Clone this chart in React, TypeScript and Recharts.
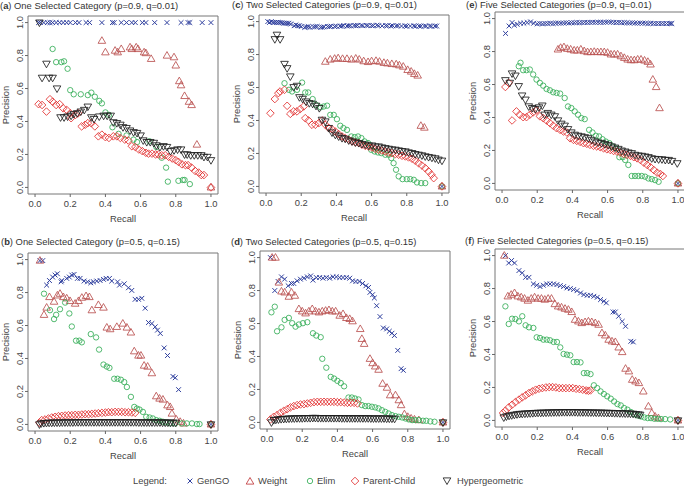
import { ScatterChart, Scatter, XAxis, YAxis, ReferenceArea } from 'recharts'

type Pt = [number, number]

const FONT = '"Liberation Sans", Arial, Helvetica, sans-serif'
const BLUE = '#2f3f9e'
const BROWN = '#b9504f'
const GREEN = '#35ad57'
const RED = '#e22d2d'
const BLACK = '#1e1e1e'
const TEXT = '#444'
const TICKS = [0, 0.2, 0.4, 0.6, 0.8, 1.0]

// ---- (a) one category, p=0.9 q=0.01
const aGenGO: Pt[] = [
  [0.02, 1], [0.03, 1], [0.05, 1], [0.07, 1], [0.085, 1], [0.1, 1], [0.12, 1], [0.14, 1], [0.16, 1],
  [0.18, 1], [0.2, 1], [0.23, 1], [0.25, 1], [0.29, 1], [0.31, 1], [0.38, 1], [0.44, 1], [0.45, 1],
  [0.49, 1], [0.52, 1], [0.55, 1], [0.57, 1], [0.61, 1], [0.63, 1], [0.68, 1], [0.75, 1], [0.83, 1],
  [0.87, 1], [0.88, 1], [0.95, 1], [1.0, 1],
]
const aWeight: Pt[] = [
  [0.38, 0.89], [0.4, 0.82], [0.455, 0.83], [0.47, 0.82], [0.49, 0.84], [0.54, 0.85], [0.55, 0.84],
  [0.575, 0.85], [0.585, 0.84], [0.62, 0.82], [0.63, 0.815], [0.66, 0.78], [0.75, 0.8], [0.79, 0.79],
  [0.8, 0.74], [0.82, 0.645], [0.83, 0.62], [0.85, 0.555], [0.875, 0.52], [0.89, 0.5], [0.92, 0.26], [1.0, 0.0],
]
const aElim: Pt[] = [
  [0.1, 0.84], [0.12, 0.76], [0.15, 0.76], [0.165, 0.765], [0.185, 0.72], [0.2, 0.59], [0.22, 0.565],
  [0.26, 0.565], [0.3, 0.56], [0.32, 0.575], [0.34, 0.55], [0.365, 0.525], [0.38, 0.51], [0.4, 0.455],
  [0.42, 0.44], [0.44, 0.365], [0.475, 0.325], [0.52, 0.315], [0.56, 0.29], [0.58, 0.275], [0.65, 0.28],
  [0.69, 0.245], [0.72, 0.18], [0.745, 0.12], [0.755, 0.035], [0.815, 0.04], [0.84, 0.045], [0.85, 0.045],
  [0.88, 0.02],
]
const aParent: Pt[] = [
  [0.02, 0.505], [0.04, 0.5], [0.065, 0.46], [0.085, 0.535], [0.1, 0.52], [0.12, 0.5], [0.14, 0.505],
  [0.16, 0.48], [0.18, 0.47], [0.2, 0.45], [0.205, 0.42], [0.23, 0.44], [0.245, 0.45], [0.265, 0.37],
  [0.285, 0.38], [0.3, 0.39], [0.32, 0.39], [0.34, 0.37], [0.36, 0.31], [0.38, 0.32], [0.4, 0.305],
  [0.42, 0.3], [0.445, 0.31], [0.465, 0.31], [0.485, 0.3], [0.51, 0.29], [0.53, 0.285], [0.55, 0.25],
  [0.57, 0.245], [0.59, 0.23], [0.61, 0.22], [0.63, 0.21], [0.645, 0.205], [0.665, 0.205], [0.685, 0.2],
  [0.7, 0.2], [0.72, 0.195], [0.74, 0.195], [0.76, 0.185], [0.78, 0.175], [0.8, 0.165], [0.815, 0.155],
  [0.835, 0.14], [0.855, 0.135], [0.87, 0.135], [0.89, 0.12], [0.91, 0.1], [0.93, 0.09], [0.945, 0.075],
  [0.96, 0.075], [1.0, 0.0],
]
const aHyper: Pt[] = [
  [0.025, 1.0], [0.065, 0.75], [0.04, 0.665], [0.08, 0.665], [0.1, 0.665], [0.125, 0.6], [0.145, 0.425],
  [0.165, 0.425], [0.185, 0.43], [0.205, 0.435], [0.22, 0.445], [0.24, 0.45], [0.26, 0.46], [0.28, 0.47],
  [0.3, 0.49], [0.32, 0.425], [0.335, 0.415], [0.365, 0.43], [0.39, 0.435], [0.41, 0.435], [0.43, 0.435],
  [0.445, 0.395], [0.465, 0.39], [0.485, 0.38], [0.5, 0.365], [0.52, 0.36], [0.54, 0.345], [0.56, 0.335],
  [0.58, 0.33], [0.6, 0.315], [0.615, 0.285], [0.635, 0.275], [0.655, 0.275], [0.675, 0.27], [0.69, 0.255],
  [0.71, 0.245], [0.73, 0.25], [0.75, 0.245], [0.77, 0.22], [0.79, 0.225], [0.81, 0.23], [0.83, 0.23],
  [0.85, 0.2], [0.865, 0.2], [0.885, 0.195], [0.905, 0.195], [0.925, 0.195], [0.945, 0.195], [0.96, 0.185],
  [0.98, 0.185], [1.0, 0.165],
]

// ---- (c) two categories, p=0.9 q=0.01
const cGenGO: Pt[] = [
  [0.01, 1.0], [0.02, 0.995], [0.03, 1.0], [0.04, 0.995], [0.05, 0.995], [0.06, 0.995], [0.07, 0.995],
  [0.08, 0.995], [0.09, 0.993], [0.1, 0.99], [0.11, 0.99], [0.12, 0.99], [0.13, 0.99], [0.14, 0.985],
  [0.16, 0.975], [0.17, 0.98], [0.18, 0.975], [0.19, 0.975], [0.2, 0.97], [0.22, 0.965], [0.23, 0.968],
  [0.24, 0.97], [0.25, 0.965], [0.27, 0.968], [0.28, 0.97], [0.29, 0.97], [0.31, 0.965], [0.32, 0.966],
  [0.33, 0.968], [0.35, 0.97], [0.36, 0.97], [0.37, 0.972], [0.39, 0.97], [0.4, 0.972], [0.42, 0.973],
  [0.43, 0.972], [0.44, 0.975], [0.46, 0.973], [0.47, 0.974], [0.48, 0.975], [0.5, 0.976], [0.51, 0.975],
  [0.52, 0.977], [0.54, 0.976], [0.55, 0.975], [0.57, 0.977], [0.58, 0.976], [0.6, 0.975], [0.61, 0.976],
  [0.63, 0.978], [0.64, 0.975], [0.66, 0.974], [0.68, 0.976], [0.69, 0.975], [0.71, 0.973], [0.72, 0.975],
  [0.74, 0.974], [0.75, 0.975], [0.77, 0.973], [0.79, 0.974], [0.8, 0.972], [0.82, 0.973], [0.84, 0.974],
  [0.85, 0.972], [0.87, 0.973], [0.88, 0.972], [0.9, 0.973], [0.91, 0.972], [0.93, 0.973], [0.94, 0.972],
  [0.96, 0.973], [0.97, 0.973], [1.0, 0.0],
]
const cWeight: Pt[] = [
  [0.337, 0.757], [0.365, 0.77], [0.39, 0.775], [0.41, 0.778], [0.435, 0.774], [0.46, 0.774], [0.485, 0.77],
  [0.51, 0.776], [0.53, 0.77], [0.555, 0.76], [0.58, 0.755], [0.6, 0.76], [0.625, 0.762], [0.645, 0.757],
  [0.67, 0.75], [0.69, 0.747], [0.715, 0.743], [0.74, 0.741], [0.758, 0.735], [0.78, 0.727], [0.805, 0.707],
  [0.825, 0.697], [0.843, 0.683], [0.862, 0.673], [0.88, 0.368], [0.9, 0.357], [1.0, 0.0],
]
const cElim: Pt[] = [
  [0.105, 0.626], [0.13, 0.586], [0.148, 0.576], [0.176, 0.586], [0.205, 0.63], [0.223, 0.57], [0.24, 0.57],
  [0.265, 0.53], [0.284, 0.495], [0.31, 0.48], [0.328, 0.485], [0.347, 0.49], [0.365, 0.434], [0.385, 0.434],
  [0.403, 0.408], [0.422, 0.368], [0.44, 0.354], [0.46, 0.343], [0.485, 0.303], [0.504, 0.299], [0.523, 0.303],
  [0.542, 0.293], [0.56, 0.273], [0.58, 0.263], [0.598, 0.222], [0.617, 0.212], [0.636, 0.206], [0.655, 0.202],
  [0.678, 0.192], [0.697, 0.192], [0.712, 0.172], [0.725, 0.141], [0.739, 0.101], [0.754, 0.061], [0.776, 0.044],
  [0.8, 0.044], [0.82, 0.044], [0.84, 0.04], [0.858, 0.024], [0.882, 0.02], [0.905, 0.02], [1.0, 0.0],
]
const cParent: Pt[] = [
  [0.025, 0.444], [0.05, 0.53], [0.07, 0.566], [0.08, 0.576], [0.105, 0.586], [0.12, 0.489], [0.138, 0.44],
  [0.157, 0.455], [0.176, 0.455], [0.195, 0.47], [0.214, 0.485], [0.223, 0.414], [0.242, 0.4], [0.261, 0.374],
  [0.28, 0.374], [0.3, 0.384], [0.318, 0.4], [0.337, 0.374], [0.356, 0.354], [0.375, 0.347], [0.394, 0.333],
  [0.413, 0.317], [0.432, 0.303], [0.45, 0.293], [0.47, 0.283], [0.489, 0.273], [0.508, 0.267], [0.527, 0.263],
  [0.545, 0.253], [0.564, 0.246], [0.583, 0.242], [0.602, 0.236], [0.621, 0.228], [0.64, 0.222], [0.659, 0.218],
  [0.678, 0.212], [0.697, 0.206], [0.716, 0.202], [0.735, 0.196], [0.754, 0.192], [0.773, 0.186], [0.792, 0.182],
  [0.81, 0.176], [0.83, 0.168], [0.848, 0.156], [0.867, 0.141], [0.886, 0.127], [0.905, 0.111], [0.924, 0.091],
  [0.94, 0.071], [0.953, 0.05], [1.0, 0.0],
]
const cHyper: Pt[] = [
  [0.05, 0.893], [0.062, 0.92], [0.08, 0.893], [0.105, 0.743], [0.12, 0.717], [0.138, 0.667], [0.157, 0.602],
  [0.176, 0.61], [0.19, 0.541], [0.208, 0.531], [0.227, 0.515], [0.246, 0.505], [0.265, 0.501], [0.284, 0.489],
  [0.303, 0.475], [0.318, 0.404], [0.337, 0.394], [0.356, 0.354], [0.375, 0.327], [0.394, 0.313], [0.413, 0.303],
  [0.432, 0.293], [0.45, 0.289], [0.47, 0.279], [0.489, 0.273], [0.508, 0.267], [0.527, 0.263], [0.545, 0.257],
  [0.564, 0.253], [0.583, 0.248], [0.602, 0.248], [0.621, 0.242], [0.64, 0.242], [0.659, 0.236], [0.678, 0.232],
  [0.697, 0.228], [0.716, 0.224], [0.735, 0.222], [0.754, 0.218], [0.773, 0.214], [0.792, 0.212], [0.81, 0.206],
  [0.83, 0.202], [0.848, 0.196], [0.867, 0.192], [0.886, 0.188], [0.905, 0.182], [0.924, 0.178], [0.943, 0.174],
  [0.962, 0.17], [0.98, 0.162], [1.0, 0.156],
]

// ---- (e) five categories, p=0.9 q=0.01
const eGenGO: Pt[] = [
  [0.02, 0.91], [0.04, 0.955], [0.057, 0.976], [0.07, 0.96], [0.086, 0.965], [0.105, 0.972], [0.124, 0.972],
  [0.143, 0.976], [0.162, 0.98], [0.18, 0.972], [0.2, 0.968], [0.215, 0.97], [0.23, 0.968], [0.245, 0.97],
  [0.26, 0.97], [0.275, 0.972], [0.29, 0.97], [0.305, 0.972], [0.32, 0.973], [0.335, 0.972], [0.35, 0.973],
  [0.365, 0.975], [0.38, 0.973], [0.395, 0.975], [0.41, 0.975], [0.425, 0.976], [0.44, 0.975], [0.455, 0.976],
  [0.47, 0.977], [0.485, 0.976], [0.5, 0.977], [0.515, 0.978], [0.53, 0.977], [0.545, 0.978], [0.56, 0.978],
  [0.575, 0.977], [0.59, 0.978], [0.605, 0.98], [0.62, 0.978], [0.635, 0.977], [0.65, 0.976], [0.665, 0.977],
  [0.68, 0.975], [0.695, 0.976], [0.71, 0.975], [0.725, 0.973], [0.74, 0.975], [0.755, 0.973], [0.77, 0.972],
  [0.785, 0.973], [0.8, 0.972], [0.815, 0.972], [0.83, 0.97], [0.845, 0.972], [0.86, 0.97], [0.875, 0.97],
  [0.89, 0.97], [0.905, 0.97], [0.92, 0.97], [0.935, 0.97], [0.95, 0.97], [0.96, 0.97], [0.965, 0.97], [1.0, 0.0],
]
const eWeight: Pt[] = [
  [0.318, 0.813], [0.333, 0.823], [0.352, 0.827], [0.371, 0.817], [0.39, 0.813], [0.41, 0.807], [0.428, 0.807],
  [0.448, 0.813], [0.467, 0.803], [0.486, 0.797], [0.505, 0.797], [0.524, 0.799], [0.543, 0.797], [0.562, 0.797],
  [0.581, 0.797], [0.6, 0.793], [0.619, 0.783], [0.638, 0.783], [0.657, 0.783], [0.676, 0.772], [0.695, 0.762],
  [0.714, 0.752], [0.733, 0.748], [0.752, 0.748], [0.771, 0.752], [0.79, 0.752], [0.81, 0.746], [0.829, 0.738],
  [0.844, 0.722], [0.857, 0.63], [0.876, 0.585], [0.895, 0.457], [1.0, 0.0],
]
const eElim: Pt[] = [
  [0.095, 0.711], [0.105, 0.732], [0.12, 0.687], [0.139, 0.687], [0.158, 0.691], [0.177, 0.661], [0.196, 0.63],
  [0.215, 0.61], [0.234, 0.593], [0.253, 0.573], [0.272, 0.565], [0.291, 0.553], [0.31, 0.549], [0.33, 0.545],
  [0.356, 0.518], [0.375, 0.467], [0.394, 0.457], [0.413, 0.437], [0.432, 0.417], [0.451, 0.396], [0.47, 0.39],
  [0.495, 0.325], [0.514, 0.309], [0.533, 0.289], [0.552, 0.285], [0.571, 0.268], [0.59, 0.254], [0.61, 0.244],
  [0.629, 0.224], [0.648, 0.213], [0.667, 0.159], [0.686, 0.159], [0.7, 0.142], [0.718, 0.112], [0.737, 0.045],
  [0.756, 0.045], [0.775, 0.045], [0.794, 0.045], [0.813, 0.041], [0.832, 0.03], [0.851, 0.026], [0.87, 0.02],
  [0.89, 0.01], [1.0, 0.0],
]
const eParent: Pt[] = [
  [0.019, 0.585], [0.038, 0.61], [0.057, 0.382], [0.082, 0.437], [0.1, 0.417], [0.12, 0.402], [0.139, 0.402],
  [0.158, 0.417], [0.177, 0.431], [0.196, 0.443], [0.215, 0.407], [0.234, 0.396], [0.253, 0.382], [0.272, 0.366],
  [0.291, 0.35], [0.31, 0.335], [0.33, 0.325], [0.349, 0.315], [0.368, 0.309], [0.387, 0.274], [0.406, 0.264],
  [0.425, 0.258], [0.444, 0.252], [0.463, 0.244], [0.482, 0.24], [0.5, 0.234], [0.52, 0.228], [0.539, 0.224],
  [0.558, 0.22], [0.577, 0.213], [0.596, 0.207], [0.615, 0.203], [0.634, 0.197], [0.653, 0.193], [0.672, 0.187],
  [0.691, 0.179], [0.71, 0.173], [0.73, 0.167], [0.749, 0.159], [0.768, 0.152], [0.787, 0.142], [0.806, 0.126],
  [0.825, 0.112], [0.844, 0.098], [0.863, 0.081], [0.882, 0.065], [0.9, 0.057], [0.914, 0.045], [1.0, 0.0],
]
const eHyper: Pt[] = [
  [0.019, 0.626], [0.044, 0.61], [0.057, 0.667], [0.076, 0.654], [0.095, 0.59], [0.114, 0.533], [0.133, 0.508],
  [0.152, 0.467], [0.171, 0.457], [0.19, 0.451], [0.21, 0.461], [0.229, 0.472], [0.242, 0.417], [0.26, 0.427],
  [0.28, 0.417], [0.3, 0.407], [0.318, 0.382], [0.337, 0.362], [0.356, 0.35], [0.375, 0.329], [0.394, 0.309],
  [0.413, 0.295], [0.432, 0.289], [0.451, 0.285], [0.47, 0.28], [0.49, 0.274], [0.509, 0.264], [0.528, 0.254],
  [0.547, 0.248], [0.566, 0.244], [0.585, 0.238], [0.604, 0.232], [0.623, 0.224], [0.642, 0.217], [0.661, 0.209],
  [0.68, 0.199], [0.7, 0.193], [0.718, 0.187], [0.737, 0.183], [0.756, 0.173], [0.775, 0.169], [0.794, 0.167],
  [0.813, 0.163], [0.832, 0.159], [0.851, 0.152], [0.87, 0.148], [0.89, 0.146], [0.909, 0.146], [0.928, 0.142],
  [0.947, 0.142], [0.966, 0.136], [0.996, 0.122],
]

// ---- (b) one category, p=0.5 q=0.15
const bGenGO: Pt[] = [
  [0.028, 0.994], [0.044, 0.994], [0.066, 0.845], [0.082, 0.873], [0.1, 0.894], [0.114, 0.906], [0.127, 0.914],
  [0.148, 0.865], [0.152, 0.873], [0.18, 0.886], [0.195, 0.894], [0.209, 0.906], [0.222, 0.91], [0.241, 0.886],
  [0.256, 0.886], [0.279, 0.87], [0.298, 0.865], [0.317, 0.859], [0.332, 0.865], [0.351, 0.87], [0.37, 0.873],
  [0.389, 0.88], [0.404, 0.886], [0.423, 0.886], [0.436, 0.87], [0.469, 0.865], [0.48, 0.845], [0.507, 0.853],
  [0.531, 0.829], [0.55, 0.813], [0.569, 0.759], [0.588, 0.759], [0.607, 0.765], [0.626, 0.705], [0.645, 0.618],
  [0.664, 0.612], [0.683, 0.592], [0.696, 0.572], [0.712, 0.552], [0.734, 0.464], [0.753, 0.418], [0.784, 0.291],
  [0.797, 0.283], [0.816, 0.211], [1.0, 0.0],
]
const bWeight: Pt[] = [
  [0.028, 0.994], [0.051, 0.665], [0.066, 0.709], [0.082, 0.773], [0.108, 0.745], [0.127, 0.783], [0.142, 0.793],
  [0.161, 0.773], [0.18, 0.765], [0.199, 0.749], [0.228, 0.733], [0.247, 0.749], [0.266, 0.769], [0.29, 0.779],
  [0.309, 0.773], [0.323, 0.693], [0.36, 0.725], [0.389, 0.709], [0.408, 0.588], [0.427, 0.578], [0.465, 0.592],
  [0.499, 0.612], [0.522, 0.588], [0.545, 0.558], [0.564, 0.444], [0.588, 0.418], [0.602, 0.418], [0.62, 0.357],
  [0.64, 0.351], [0.664, 0.311], [0.689, 0.171], [0.708, 0.157], [0.727, 0.151], [0.753, 0.116], [0.768, 0.106],
  [0.778, 0.066], [0.803, 0.03], [0.825, 0.016], [0.844, 0.006], [1.0, 0.0],
]
const bElim: Pt[] = [
  [0.051, 0.793], [0.085, 0.693], [0.108, 0.639], [0.12, 0.665], [0.142, 0.699], [0.171, 0.739], [0.195, 0.673],
  [0.209, 0.594], [0.233, 0.508], [0.252, 0.508], [0.266, 0.498], [0.317, 0.548], [0.347, 0.528], [0.364, 0.454],
  [0.389, 0.363], [0.408, 0.351], [0.423, 0.343], [0.45, 0.277], [0.469, 0.277], [0.488, 0.271], [0.507, 0.257],
  [0.522, 0.227], [0.545, 0.167], [0.564, 0.106], [0.579, 0.096], [0.594, 0.09], [0.613, 0.076], [0.632, 0.046],
  [0.651, 0.042], [0.67, 0.036], [0.689, 0.026], [0.708, 0.022], [0.727, 0.016], [0.746, 0.012], [0.768, 0.006],
  [0.797, 0.006], [0.835, 0.006], [0.863, 0.006], [0.892, 0.006], [0.92, 0.002], [0.935, 0.002], [1.0, 0.0],
]
const bParent: Pt[] = [
  [0.025, 0.01], [0.038, 0.026], [0.057, 0.03], [0.076, 0.036], [0.095, 0.042], [0.114, 0.046], [0.133, 0.05],
  [0.152, 0.052], [0.171, 0.054], [0.19, 0.056], [0.209, 0.056], [0.228, 0.058], [0.247, 0.058], [0.266, 0.06],
  [0.285, 0.062], [0.304, 0.062], [0.323, 0.064], [0.342, 0.066], [0.36, 0.068], [0.38, 0.07], [0.4, 0.072],
  [0.417, 0.074], [0.436, 0.074], [0.455, 0.076], [0.474, 0.076], [0.493, 0.076], [0.512, 0.074], [0.531, 0.074],
  [0.55, 0.072], [0.569, 0.07], [1.0, 0.0],
]
const bHyper: Pt[] = [
  [0.025, 0.0], [0.035, 0.006], [0.05, 0.008], [0.065, 0.009], [0.08, 0.01], [0.095, 0.01], [0.11, 0.011],
  [0.125, 0.011], [0.14, 0.011], [0.155, 0.012], [0.17, 0.012], [0.185, 0.012], [0.2, 0.012], [0.215, 0.012],
  [0.23, 0.013], [0.245, 0.013], [0.26, 0.013], [0.275, 0.013], [0.29, 0.013], [0.305, 0.013], [0.32, 0.013],
  [0.335, 0.013], [0.35, 0.013], [0.365, 0.013], [0.38, 0.013], [0.395, 0.013], [0.41, 0.013], [0.425, 0.013],
  [0.44, 0.013], [0.455, 0.013], [0.47, 0.013], [0.485, 0.013], [0.5, 0.013], [0.515, 0.013], [0.53, 0.013],
  [0.545, 0.013], [0.56, 0.013], [0.575, 0.013], [0.59, 0.012], [0.605, 0.012], [0.62, 0.012], [0.635, 0.012],
  [0.65, 0.012], [0.665, 0.012], [0.68, 0.012], [0.695, 0.012], [0.71, 0.012], [0.725, 0.011], [0.74, 0.011],
  [0.755, 0.011], [0.77, 0.011], [0.785, 0.01], [0.8, 0.01], [1.0, 0.0],
]

// ---- (d) two categories, p=0.5 q=0.15
const dGenGO: Pt[] = [
  [0.019, 1.0], [0.044, 0.8], [0.063, 0.855], [0.082, 0.883], [0.1, 0.869], [0.12, 0.829], [0.139, 0.843],
  [0.152, 0.843], [0.171, 0.859], [0.19, 0.869], [0.21, 0.875], [0.229, 0.883], [0.248, 0.889], [0.261, 0.863],
  [0.28, 0.879], [0.299, 0.879], [0.318, 0.875], [0.337, 0.879], [0.356, 0.875], [0.375, 0.883], [0.394, 0.883],
  [0.413, 0.879], [0.432, 0.879], [0.451, 0.879], [0.47, 0.875], [0.486, 0.859], [0.505, 0.855], [0.524, 0.855],
  [0.543, 0.843], [0.562, 0.829], [0.577, 0.819], [0.585, 0.789], [0.6, 0.775], [0.61, 0.755], [0.623, 0.708],
  [0.642, 0.642], [0.661, 0.573], [0.68, 0.567], [0.695, 0.553], [0.71, 0.541], [0.724, 0.527], [0.743, 0.437],
  [0.762, 0.326], [0.775, 0.316], [1.0, 0.0],
]
const dWeight: Pt[] = [
  [0.029, 1.0], [0.048, 1.0], [0.067, 0.849], [0.082, 0.795], [0.1, 0.789], [0.124, 0.763], [0.139, 0.789],
  [0.158, 0.769], [0.181, 0.688], [0.2, 0.674], [0.219, 0.662], [0.238, 0.674], [0.257, 0.688], [0.276, 0.674],
  [0.295, 0.668], [0.314, 0.674], [0.333, 0.678], [0.352, 0.682], [0.371, 0.674], [0.39, 0.674], [0.413, 0.648],
  [0.432, 0.658], [0.451, 0.634], [0.47, 0.628], [0.486, 0.614], [0.53, 0.567], [0.539, 0.507], [0.552, 0.477],
  [0.585, 0.386], [0.6, 0.36], [0.615, 0.34], [0.634, 0.32], [0.657, 0.235], [0.682, 0.211], [0.7, 0.165],
  [0.73, 0.165], [0.749, 0.135], [0.762, 0.105], [0.781, 0.05], [0.8, 0.034], [0.819, 0.024], [0.838, 0.018],
  [0.863, 0.014], [1.0, 0.0],
]
const dElim: Pt[] = [
  [0.025, 0.668], [0.044, 0.702], [0.057, 0.553], [0.082, 0.577], [0.1, 0.622], [0.124, 0.634], [0.143, 0.602],
  [0.162, 0.581], [0.181, 0.594], [0.204, 0.602], [0.229, 0.608], [0.261, 0.541], [0.28, 0.527], [0.305, 0.517],
  [0.314, 0.386], [0.337, 0.332], [0.362, 0.276], [0.381, 0.266], [0.4, 0.252], [0.419, 0.239], [0.438, 0.219],
  [0.463, 0.151], [0.482, 0.151], [0.5, 0.145], [0.52, 0.139], [0.539, 0.105], [0.558, 0.099], [0.577, 0.099],
  [0.596, 0.095], [0.615, 0.091], [0.634, 0.085], [0.653, 0.074], [0.672, 0.064], [0.691, 0.054], [0.71, 0.044],
  [0.73, 0.038], [0.749, 0.034], [0.768, 0.03], [0.787, 0.024], [0.806, 0.018], [0.825, 0.014], [0.844, 0.014],
  [0.863, 0.014], [0.886, 0.01], [0.905, 0.01], [0.928, 0.006], [0.952, 0.004], [1.0, 0.0],
]
const dParent: Pt[] = [
  [0.019, 0.018], [0.038, 0.034], [0.057, 0.044], [0.076, 0.058], [0.095, 0.07], [0.114, 0.08], [0.133, 0.091],
  [0.152, 0.099], [0.171, 0.105], [0.19, 0.109], [0.21, 0.111], [0.229, 0.115], [0.248, 0.119], [0.267, 0.123],
  [0.286, 0.125], [0.305, 0.125], [0.324, 0.125], [0.343, 0.125], [0.362, 0.125], [0.381, 0.125], [0.4, 0.123],
  [0.419, 0.123], [0.438, 0.121], [0.457, 0.119], [0.476, 0.119], [0.495, 0.119], [0.514, 0.115], [1.0, 0.0],
]
const dHyper: Pt[] = [
  [0.025, 0.0], [0.038, 0.014], [0.05, 0.016], [0.065, 0.018], [0.08, 0.02], [0.095, 0.021], [0.11, 0.022],
  [0.125, 0.023], [0.14, 0.024], [0.155, 0.024], [0.17, 0.025], [0.185, 0.025], [0.2, 0.025], [0.215, 0.026],
  [0.23, 0.026], [0.245, 0.026], [0.26, 0.027], [0.275, 0.027], [0.29, 0.026], [0.305, 0.026], [0.32, 0.026],
  [0.335, 0.026], [0.35, 0.026], [0.365, 0.026], [0.38, 0.026], [0.395, 0.026], [0.41, 0.026], [0.425, 0.025],
  [0.44, 0.025], [0.455, 0.025], [0.47, 0.025], [0.485, 0.025], [0.5, 0.025], [0.515, 0.025], [0.53, 0.025],
  [0.545, 0.025], [0.56, 0.025], [0.575, 0.025], [0.59, 0.024], [0.605, 0.024], [0.62, 0.024], [0.635, 0.024],
  [0.65, 0.024], [0.665, 0.024], [0.68, 0.023], [0.695, 0.023], [0.71, 0.023], [0.725, 0.022], [1.0, 0.0],
]

// ---- (f) five categories, p=0.5 q=0.15
const fGenGO: Pt[] = [
  [0.019, 1.0], [0.038, 0.955], [0.054, 0.97], [0.071, 0.955], [0.096, 0.909], [0.115, 0.895], [0.134, 0.868],
  [0.153, 0.868], [0.178, 0.828], [0.197, 0.82], [0.216, 0.812], [0.235, 0.82], [0.254, 0.828], [0.273, 0.828],
  [0.293, 0.828], [0.312, 0.824], [0.331, 0.818], [0.35, 0.812], [0.369, 0.804], [0.388, 0.8], [0.407, 0.794],
  [0.426, 0.787], [0.446, 0.773], [0.465, 0.763], [0.484, 0.759], [0.503, 0.759], [0.522, 0.753], [0.541, 0.747],
  [0.56, 0.733], [0.579, 0.723], [0.593, 0.713], [0.631, 0.658], [0.644, 0.658], [0.663, 0.632], [0.683, 0.601],
  [0.702, 0.571], [0.732, 0.48], [0.746, 0.476], [1.0, 0.0],
]
const fWeight: Pt[] = [
  [0.013, 1.0], [0.033, 0.753], [0.052, 0.763], [0.071, 0.773], [0.09, 0.753], [0.109, 0.747], [0.128, 0.739],
  [0.147, 0.727], [0.166, 0.739], [0.185, 0.747], [0.205, 0.739], [0.224, 0.739], [0.243, 0.733], [0.262, 0.739],
  [0.281, 0.739], [0.3, 0.706], [0.319, 0.692], [0.338, 0.686], [0.358, 0.678], [0.377, 0.672], [0.396, 0.658],
  [0.415, 0.611], [0.434, 0.601], [0.453, 0.591], [0.472, 0.597], [0.491, 0.601], [0.51, 0.597], [0.53, 0.591],
  [0.549, 0.581], [0.568, 0.53], [0.587, 0.516], [0.606, 0.49], [0.625, 0.48], [0.644, 0.476], [0.663, 0.443],
  [0.683, 0.415], [0.702, 0.314], [0.721, 0.298], [0.74, 0.247], [0.759, 0.237], [0.778, 0.227], [0.803, 0.176],
  [0.832, 0.085], [0.851, 0.045], [0.87, 0.024], [0.889, 0.014], [1.0, 0.0],
]
const fElim: Pt[] = [
  [0.019, 0.692], [0.038, 0.585], [0.057, 0.617], [0.076, 0.615], [0.096, 0.601], [0.115, 0.632], [0.134, 0.577],
  [0.153, 0.565], [0.178, 0.561], [0.197, 0.504], [0.216, 0.5], [0.235, 0.49], [0.254, 0.49], [0.273, 0.486],
  [0.293, 0.476], [0.312, 0.476], [0.331, 0.443], [0.35, 0.403], [0.369, 0.399], [0.388, 0.395], [0.407, 0.354],
  [0.426, 0.354], [0.446, 0.352], [0.465, 0.287], [0.484, 0.287], [0.503, 0.281], [0.522, 0.213], [0.541, 0.196],
  [0.56, 0.176], [0.579, 0.16], [0.598, 0.146], [0.618, 0.132], [0.637, 0.115], [0.656, 0.099], [0.675, 0.091],
  [0.694, 0.075], [0.713, 0.065], [0.732, 0.051], [0.751, 0.038], [0.77, 0.03], [0.79, 0.024], [0.809, 0.018],
  [0.828, 0.014], [0.847, 0.014], [0.866, 0.01], [0.885, 0.01], [0.904, 0.008], [0.927, 0.008], [0.956, 0.006],
  [1.0, 0.0],
]
const fParent: Pt[] = [
  [0.006, 0.045], [0.019, 0.059], [0.038, 0.079], [0.057, 0.095], [0.076, 0.111], [0.096, 0.126], [0.115, 0.14],
  [0.134, 0.152], [0.153, 0.166], [0.172, 0.176], [0.191, 0.186], [0.21, 0.192], [0.229, 0.196], [0.249, 0.2],
  [0.268, 0.202], [0.287, 0.202], [0.306, 0.2], [0.325, 0.196], [0.344, 0.196], [0.363, 0.196], [0.382, 0.196],
  [0.402, 0.196], [0.421, 0.192], [0.44, 0.19], [0.459, 0.186], [0.478, 0.182], [0.491, 0.18], [0.503, 0.182],
  [1.0, 0.0],
]
const fHyper: Pt[] = [
  [0.01, 0.018], [0.025, 0.024], [0.04, 0.028], [0.055, 0.031], [0.07, 0.034], [0.085, 0.037], [0.1, 0.039],
  [0.115, 0.04], [0.13, 0.041], [0.145, 0.042], [0.16, 0.043], [0.175, 0.044], [0.19, 0.045], [0.205, 0.046],
  [0.22, 0.046], [0.235, 0.047], [0.25, 0.047], [0.265, 0.048], [0.28, 0.048], [0.295, 0.049], [0.31, 0.049],
  [0.325, 0.049], [0.34, 0.05], [0.355, 0.05], [0.37, 0.05], [0.385, 0.05], [0.4, 0.05], [0.415, 0.05],
  [0.43, 0.049], [0.445, 0.049], [0.46, 0.049], [0.475, 0.049], [0.49, 0.048], [0.505, 0.048], [0.52, 0.048],
  [0.535, 0.047], [0.55, 0.047], [0.565, 0.047], [0.58, 0.046], [0.595, 0.046], [0.61, 0.045], [0.625, 0.045],
  [0.64, 0.044], [0.655, 0.044], [0.67, 0.043], [0.685, 0.043], [0.7, 0.042], [0.715, 0.042], [0.73, 0.041],
  [0.745, 0.04], [0.76, 0.038], [0.775, 0.036], [0.785, 0.034], [1.0, 0.0],
]

const SERIES_NAMES = ['GenGO', 'Weight', 'Elim', 'Parent-Child', 'Hypergeometric']

// left/top = plot-box corner on the page, tx/ty = title baseline
const PANELS = [
  { tag: 'a', title: 'One Selected Category (p=0.9, q=0.01)', left: 28, top: 16, tx: 0, ty: 8.5, data: [aGenGO, aWeight, aElim, aParent, aHyper] },
  { tag: 'c', title: 'Two Selected Categories (p=0.9, q=0.01)', left: 259, top: 15, tx: 232, ty: 8, data: [cGenGO, cWeight, cElim, cParent, cHyper] },
  { tag: 'e', title: 'Five Selected Categories (p=0.9, q=0.01)', left: 495, top: 12, tx: 466, ty: 8, data: [eGenGO, eWeight, eElim, eParent, eHyper] },
  { tag: 'b', title: 'One Selected Category (p=0.5, q=0.15)', left: 28, top: 253, tx: 1, ty: 244.5, data: [bGenGO, bWeight, bElim, bParent, bHyper] },
  { tag: 'd', title: 'Two Selected Categories (p=0.5, q=0.15)', left: 260, top: 251, tx: 231, ty: 244.5, data: [dGenGO, dWeight, dElim, dParent, dHyper] },
  { tag: 'f', title: 'Five Selected Categories (p=0.5, q=0.15)', left: 495, top: 249, tx: 465, ty: 243.5, data: [fGenGO, fWeight, fElim, fParent, fHyper] },
]

const toPts = (arr: Pt[]) => arr.map(([x, y]) => ({ x, y }))

// marker shapes, R pch style
function XMark({ cx, cy }: any) {
  const s = 2.4
  return <path d={`M${cx - s},${cy - s}L${cx + s},${cy + s}M${cx - s},${cy + s}L${cx + s},${cy - s}`} stroke={BLUE} strokeWidth={1} fill="none" />
}
function TriUp({ cx, cy, color = BROWN }: any) {
  return <polygon points={`${cx},${cy - 4} ${cx - 3.8},${cy + 2.6} ${cx + 3.8},${cy + 2.6}`} stroke={color} strokeWidth={0.85} fill="none" />
}
function Ring({ cx, cy }: any) {
  return <circle cx={cx} cy={cy} r={2.7} stroke={GREEN} strokeWidth={0.85} fill="none" />
}
function Diamond({ cx, cy }: any) {
  return <polygon points={`${cx},${cy - 3.8} ${cx + 3.8},${cy} ${cx},${cy + 3.8} ${cx - 3.8},${cy}`} stroke={RED} strokeWidth={0.85} fill="none" />
}
function TriDown({ cx, cy }: any) {
  return <polygon points={`${cx},${cy + 4} ${cx - 3.8},${cy - 2.6} ${cx + 3.8},${cy - 2.6}`} stroke={BLACK} strokeWidth={0.85} fill="none" />
}
const SHAPES = [XMark, TriUp, Ring, Diamond, TriDown]

function YTick(p: any) {
  return (
    <text x={p.x} y={p.y} transform={`rotate(-90 ${p.x} ${p.y})`} textAnchor="middle" fontSize={9.4} fill={TEXT} fontFamily={FONT}>
      {Number(p.payload.value).toFixed(1)}
    </text>
  )
}

function Panel({ panel }: { panel: (typeof PANELS)[number] }) {
  return (
    <div style={{ position: 'absolute', left: panel.left - 30, top: panel.top - 4 }}>
      <ScatterChart width={224} height={212} margin={{ top: 4, right: 4, bottom: 0, left: 0 }}>
        <XAxis
          type="number"
          dataKey="x"
          domain={[-0.04, 1.04]}
          ticks={TICKS}
          interval={0}
          allowDataOverflow
          axisLine={false}
          tickLine={{ stroke: '#666' }}
          tickSize={3}
          tickMargin={3}
          tick={{ fontSize: 9.4, fill: TEXT, fontFamily: FONT }}
          tickFormatter={(v: number) => v.toFixed(1)}
          height={30}
          label={{
            content: (lp: any) => {
              const vb = lp.viewBox
              return (
                <text x={vb.x + vb.width / 2} y={vb.y + 28} textAnchor="middle" fontSize={9.4} fill={TEXT} fontFamily={FONT}>
                  Recall
                </text>
              )
            },
          }}
        />
        <YAxis
          type="number"
          dataKey="y"
          domain={[-0.04, 1.04]}
          ticks={TICKS}
          interval={0}
          allowDataOverflow
          axisLine={false}
          tickLine={{ stroke: '#666' }}
          tickSize={3}
          tickMargin={2}
          tick={YTick}
          width={30}
          label={{
            content: (lp: any) => {
              const vb = lp.viewBox
              const x = vb.x + 10.5
              const y = vb.y + vb.height / 2
              return (
                <text x={x} y={y} transform={`rotate(-90 ${x} ${y})`} textAnchor="middle" fontSize={9.4} fill={TEXT} fontFamily={FONT}>
                  Precision
                </text>
              )
            },
          }}
        />
        <ReferenceArea x1={-0.04} x2={1.04} y1={-0.04} y2={1.04} fill="none" stroke="#777" strokeWidth={1} ifOverflow="visible" />
        {panel.data.map((s, i) => {
          const Shape = SHAPES[i]
          return (
            <Scatter
              key={SERIES_NAMES[i]}
              name={SERIES_NAMES[i]}
              data={toPts(s)}
              isAnimationActive={false}
              shape={(sp: any) => <Shape cx={sp.cx} cy={sp.cy} />}
            />
          )
        })}
      </ScatterChart>
    </div>
  )
}

export default function App() {
  const legendY = 481
  return (
    <div style={{ position: 'absolute', left: 0, top: 0, width: 684, height: 487, background: '#fff', fontFamily: FONT }}>
      {PANELS.map(p => (
        <Panel key={p.tag} panel={p} />
      ))}
      <svg width={684} height={487} style={{ position: 'absolute', left: 0, top: 0, pointerEvents: 'none' }}>
        {PANELS.map(p => (
          <text key={p.tag} x={p.tx} y={p.ty} fontSize={9.4} fill="#333" fontFamily={FONT}>
            {'('}
            <tspan fontWeight="bold">{p.tag}</tspan>
            {') ' + p.title}
          </text>
        ))}
        <g fontSize={9.4} fill={TEXT} fontFamily={FONT}>
          <text x={133} y={legendY + 3.4}>Legend:</text>
          <XMark cx={190} cy={legendY} />
          <text x={197} y={legendY + 3.4}>GenGO</text>
          <TriUp cx={250} cy={legendY + 0.5} color="#c0393b" />
          <text x={258} y={legendY + 3.4}>Weight</text>
          <Ring cx={310} cy={legendY} />
          <text x={317} y={legendY + 3.4}>Elim</text>
          <Diamond cx={355} cy={legendY} />
          <text x={363} y={legendY + 3.4}>Parent-Child</text>
          <TriDown cx={447} cy={legendY - 0.5} />
          <text x={457} y={legendY + 3.4}>Hypergeometric</text>
        </g>
      </svg>
    </div>
  )
}
